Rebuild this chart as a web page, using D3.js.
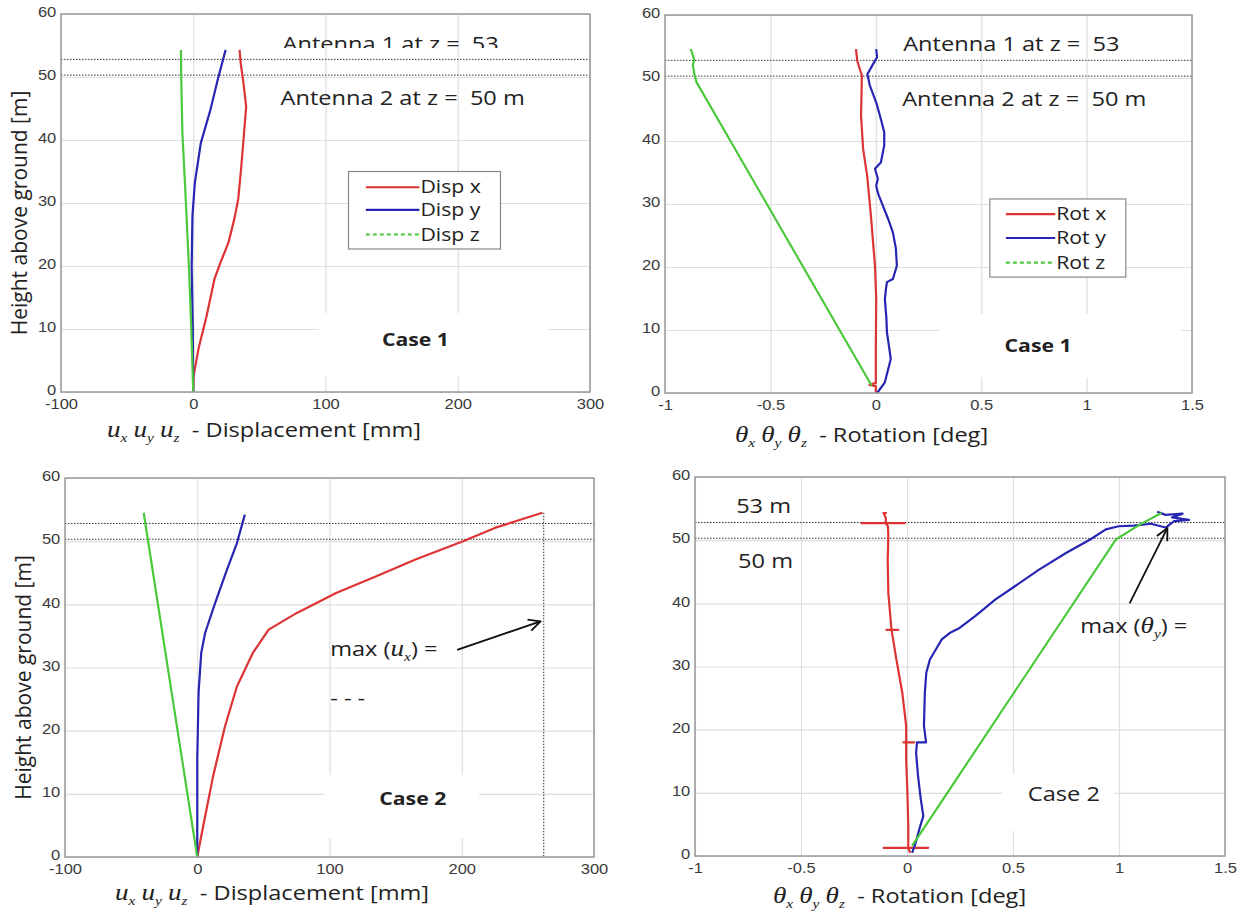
<!DOCTYPE html>
<html>
<head>
<meta charset="utf-8">
<script src="https://cdn.jsdelivr.net/npm/d3@7"></script>
<style>
  body { margin: 0; background: #fff; }
</style>
</head>
<body>
<svg id="chart" width="1241" height="920"></svg>
<script>
// ticks
const yTicks = [0, 10, 20, 30, 40, 50, 60];
const dispTicks = [-100, 0, 100, 200, 300];
const rotTicks = [-1, -0.5, 0, 0.5, 1, 1.5];
const antennaZ = [52.8, 50.3];

// series: [value, height m]
// case 1, displacement [mm]
const c1DispX = [[0,0],[0.3,2.6],[4,6.9],[10,12],[16,17.9],[20.7,20.6],[26.6,23.7],[31,27.4],[34,30.6],[36,35],[38,40],[40,45.3],[38,49],[36,52],[35,54.3]];
const c1DispY = [[0,0],[-0.3,9.5],[-1.2,20],[-0.6,28],[1.2,33.2],[5.7,39.5],[13,44.8],[19,50],[24.5,54.3]];
const c1DispZ = [[0,0],[-1.4,9.5],[-3.3,20],[-6,32],[-8.2,41],[-9.1,50],[-9.3,54.3]];
// case 1, rotation [deg]
const c1RotX = [[0,0],[0,1.1],[-0.03,1.3],[0,1.6],[0,7],[0.002,14.9],[-0.004,20.2],[-0.023,28.1],[-0.041,34.5],[-0.06,38.7],[-0.07,44],[-0.066,50.4],[-0.088,52.7],[-0.094,54.6]];
const c1RotY = [[0.006,0],[0.015,0.4],[0.043,1.7],[0.071,5.4],[0.06,8],[0.053,9.6],[0.05,12],[0.043,14.9],[0.048,16.5],[0.053,17.6],[0.081,18.1],[0.1,20.2],[0.095,23],[0.081,25.5],[0.06,27.5],[0.04,29.2],[0.015,31.3],[0.008,32],[0.002,32.9],[0.01,34],[-0.004,35.6],[0.024,36.6],[0.04,39.3],[0.04,41.4],[0.024,43.5],[0.002,46.1],[-0.028,48.8],[-0.04,50.6],[-0.013,52.2],[0.006,53.3],[0.002,54.6]];
const c1RotZ = [[-0.02,1.2],[-0.85,49.3],[-0.859,50.4],[-0.868,52],[-0.862,53],[-0.878,54.6]];
// case 2, displacement [mm]
const c2DispX = [[0,0],[4.5,4.9],[12,12.8],[21,20.7],[30,27],[42,32.3],[54,36],[75,38.6],[105,41.8],[135,44.4],[165,47.1],[201,50],[225,52.1],[261,54.5]];
const c2DispY = [[0,0],[0,15.4],[1,26],[3,32.3],[6,35.5],[13.5,40.2],[22.5,45.5],[30,49.7],[36,54.2]];
const c2DispZ = [[0,0],[-40.5,54.5]];
// case 2, rotation [deg]
const c2RotX = [[0.015,0.5],[0.006,1.3],[-0.11,1.3],[0.1,1.3],[0.006,1.3],[0.006,4.7],[0.002,10],[-0.004,15.3],[-0.004,18],[-0.017,18],[0.034,18],[-0.004,18],[-0.004,20.6],[-0.022,25.8],[-0.05,31.1],[-0.073,35.8],[-0.097,35.8],[-0.041,35.8],[-0.073,35.8],[-0.088,41.6],[-0.091,46.9],[-0.088,50.6],[-0.09,52.2],[-0.1,52.7],[-0.215,52.7],[-0.01,52.7],[-0.1,52.7],[-0.1,53.5],[-0.11,54.3],[-0.095,54.3]];
const c2RotY = [[0.024,0.5],[0.04,2],[0.062,4.7],[0.077,6.3],[0.065,9],[0.052,12.7],[0.043,16.3],[0.047,18],[0.09,18],[0.08,20.6],[0.084,25.8],[0.091,29],[0.108,31.1],[0.136,32.7],[0.164,34.3],[0.201,35.3],[0.248,36.1],[0.323,38],[0.416,40.6],[0.509,42.7],[0.621,45.3],[0.752,48],[0.864,50.1],[0.938,51.7],[0.998,52.2],[1.07,52.3],[1.15,52.6],[1.22,52.0],[1.26,53.0],[1.33,53.2],[1.25,53.6],[1.30,54.2],[1.22,54.0],[1.18,54.5]];
const c2RotZ = [[0.024,1.6],[0.985,50.1],[1.1,52.5],[1.2,54.3]];

const dispNames = ["Disp x", "Disp y", "Disp z"];
const rotNames = ["Rot x", "Rot y", "Rot z"];
const colors = ["#dd3333", "#2626b2", "#4cc83c"];

const svg = d3.select("#chart");
const textFont = "'Open Sans', sans-serif";
const serif = "'Liberation Serif', serif";
const SX = 1.18; // the source figure is stretched sideways

svg.append("defs").append("marker")
    .attr("id", "arrow")
    .attr("viewBox", "0 0 12 12")
    .attr("refX", 11).attr("refY", 6)
    .attr("markerWidth", 14).attr("markerHeight", 14)
    .attr("markerUnits", "userSpaceOnUse")
    .attr("orient", "auto")
  .append("path")
    .attr("d", "M1,1 L11,6 L1,11")
    .attr("fill", "none").attr("stroke", "#111").attr("stroke-width", 1.6);

function putText(g, x, y, size) {
  return g.append("text")
    .attr("transform", `translate(${x},${y}) scale(${SX},1)`)
    .attr("font-family", textFont).attr("font-size", size).attr("fill", "#222")
    .attr("xml:space", "preserve");
}

function addParts(t, parts) {
  parts.forEach(pt => {
    const s = t.append("tspan").text(pt.t);
    if (pt.it) s.attr("font-family", serif).attr("font-style", "italic").attr("font-size", 23);
    if (pt.sub) s.attr("font-family", serif).attr("font-style", "italic").attr("font-size", 13).attr("dy", 5);
    if (pt.up) s.attr("dy", -5);
  });
}

function drawPanel(p) {
  const g = svg.append("g");
  const x = d3.scaleLinear().domain(p.xDomain).range([p.left, p.right]);
  const y = d3.scaleLinear().domain([0, 60]).range([p.bottom, p.top]);
  const h = p.bottom - p.top, w = p.right - p.left;

  // grid
  g.append("g").attr("transform", `translate(0,${p.bottom})`)
    .call(d3.axisBottom(x).tickValues(p.xTicks).tickSize(-h).tickFormat(""))
    .call(s => s.select(".domain").remove())
    .selectAll("line").attr("stroke", "#dedede").attr("stroke-width", 1.2);
  g.append("g").attr("transform", `translate(${p.left},0)`)
    .call(d3.axisLeft(y).tickValues(yTicks).tickSize(-w).tickFormat(""))
    .call(s => s.select(".domain").remove())
    .selectAll("line").attr("stroke", "#dedede").attr("stroke-width", 1.2);

  // white patch behind the case label
  g.append("rect")
    .attr("x", x(p.patch[0])).attr("y", y(p.patch[3]))
    .attr("width", x(p.patch[1]) - x(p.patch[0]))
    .attr("height", y(p.patch[2]) - y(p.patch[3]))
    .attr("fill", "#fff");

  // antenna levels
  antennaZ.forEach(z => {
    g.append("line").attr("x1", p.left).attr("x2", p.right)
      .attr("y1", y(z)).attr("y2", y(z))
      .attr("stroke", "#333").attr("stroke-width", 1).attr("stroke-dasharray", "1.5,1.5");
  });

  if (p.maxLine) {
    g.append("line").attr("x1", x(p.maxLine[0])).attr("x2", x(p.maxLine[0]))
      .attr("y1", y(p.maxLine[1])).attr("y2", y(0))
      .attr("stroke", "#333").attr("stroke-width", 1).attr("stroke-dasharray", "1.5,1.5");
  }

  const line = d3.line().x(d => x(d[0])).y(d => y(d[1]));
  p.series.forEach((s, i) => {
    g.append("path").datum(s).attr("d", line)
      .attr("fill", "none").attr("stroke", colors[i])
      .attr("stroke-width", 2.2).attr("stroke-linejoin", "round");
  });

  // frame
  g.append("rect").attr("x", p.left).attr("y", p.top).attr("width", w).attr("height", h)
    .attr("fill", "none").attr("stroke", "#999").attr("stroke-width", 1.5);

  // tick labels
  const lab = s => s.select(".domain").remove();
  g.append("g").attr("transform", `translate(0,${p.bottom})`)
    .call(d3.axisBottom(x).tickValues(p.xTicks).tickSize(0).tickPadding(7).tickFormat(d => String(d)))
    .call(lab)
    .selectAll("text").attr("font-family", "'Liberation Sans', Arial, sans-serif")
    .attr("font-size", 14).attr("fill", "#3a3a3a").attr("transform", `scale(${SX},1)`);
  g.append("g").attr("transform", `translate(${p.left},0)`)
    .call(d3.axisLeft(y).tickValues(yTicks).tickSize(0).tickPadding(4).tickFormat(d => String(d)))
    .call(lab)
    .selectAll("text").attr("font-family", "'Liberation Sans', Arial, sans-serif")
    .attr("font-size", 14).attr("fill", "#3a3a3a").attr("dy", "0.2em")
    .attr("transform", `scale(${SX},1)`);

  // texts
  p.notes.forEach((n, k) => {
    let host = g;
    if (n.clipAt !== undefined) {
      const id = "clip" + p.left + "_" + k;
      g.append("clipPath").attr("id", id).append("rect")
        .attr("x", p.left).attr("y", p.top).attr("width", w).attr("height", y(n.clipAt) - p.top);
      host = g.append("g").attr("clip-path", `url(#${id})`);
    }
    const t = putText(host, x(n.at[0]), y(n.at[1]), n.size || 20)
      .attr("font-weight", n.bold ? 700 : 400)
      .attr("text-anchor", n.anchor || "start");
    if (n.parts) addParts(t, n.parts); else t.text(n.text);
  });

  if (p.arrow) {
    g.append("line")
      .attr("x1", x(p.arrow[0][0])).attr("y1", y(p.arrow[0][1]))
      .attr("x2", x(p.arrow[1][0])).attr("y2", y(p.arrow[1][1]))
      .attr("stroke", "#111").attr("stroke-width", 1.8).attr("marker-end", "url(#arrow)");
  }

  // legend
  if (p.legend) {
    const L = p.legend;
    g.append("rect").attr("x", x(L.box[0])).attr("y", y(L.box[3]))
      .attr("width", x(L.box[1]) - x(L.box[0])).attr("height", y(L.box[2]) - y(L.box[3]))
      .attr("fill", "#fff").attr("stroke", "#888").attr("stroke-width", 1.2);
    p.names.forEach((nm, i) => {
      const yy = y(L.rows[i]);
      g.append("line").attr("x1", x(L.line[0])).attr("x2", x(L.line[1]))
        .attr("y1", yy).attr("y2", yy).attr("stroke", colors[i]).attr("stroke-width", 2.2)
        .attr("stroke-dasharray", i === 2 ? "4,3" : null);
      putText(g, x(L.line[1]) + 1, yy + 6, 18).text(nm);
    });
  }

  if (p.yTitle) {
    g.append("text").attr("transform", `translate(${p.left - 34},${(p.top + p.bottom) / 2 + 10}) rotate(-90)`)
      .attr("text-anchor", "middle").attr("font-family", textFont).attr("font-size", 21)
      .attr("fill", "#222").text("Height above ground [m]");
  }

  const tt = putText(g, p.left + p.xTitle[0], p.bottom + p.xTitle[1], 20);
  const parts = [];
  ["x", "y", "z"].forEach(s => {
    parts.push({ t: p.sym, it: true }, { t: s, sub: true }, { t: " ", up: true });
  });
  parts.push({ t: " - " + p.rest });
  addParts(tt, parts);
}

drawPanel({
  left: 61, right: 590, top: 14, bottom: 392,
  xDomain: [-100, 300], xTicks: dispTicks,
  series: [c1DispX, c1DispY, c1DispZ], names: dispNames,
  patch: [95, 268, 2.5, 12.5],
  notes: [
    { text: "Antenna 1 at z =  53", at: [67.5, 54.1], clipAt: 54.6 },
    { text: "Antenna 2 at z =  50 m", at: [66, 45.6] },
    { text: "Case 1", at: [168, 7.3], bold: true, anchor: "middle", size: 18 }
  ],
  legend: { box: [117.4, 232.3, 22.7, 35], line: [130.5, 171], rows: [32.5, 28.9, 25] },
  yTitle: true, sym: "u", rest: "Displacement [mm]", xTitle: [46, 45]
});

drawPanel({
  left: 665, right: 1192, top: 15, bottom: 393,
  xDomain: [-1, 1.5], xTicks: rotTicks,
  series: [c1RotX, c1RotY, c1RotZ], names: rotNames,
  patch: [0.3, 1.45, 2.5, 12.5],
  notes: [
    { text: "Antenna 1 at z =  53", at: [0.13, 54.3] },
    { text: "Antenna 2 at z =  50 m", at: [0.125, 45.6] },
    { text: "Case 1", at: [0.77, 6.5], bold: true, anchor: "middle", size: 18 }
  ],
  legend: { box: [0.541, 1.186, 18.4, 30.8], line: [0.617, 0.851], rows: [28.4, 24.6, 20.7] },
  yTitle: false, sym: "\u03b8", rest: "Rotation [deg]", xTitle: [70, 49]
});

drawPanel({
  left: 65, right: 594, top: 478, bottom: 857,
  xDomain: [-100, 300], xTicks: dispTicks,
  series: [c2DispX, c2DispY, c2DispZ], names: dispNames,
  patch: [96, 213, 3, 13],
  maxLine: [262, 54.5],
  notes: [
    { parts: [{ t: "max (" }, { t: "u", it: true }, { t: "x", sub: true }, { t: ") =", up: true }], at: [100.5, 31.8] },
    { text: "- - -", at: [100.5, 24] },
    { text: "Case 2", at: [163, 8.2], bold: true, anchor: "middle", size: 18 }
  ],
  arrow: [[196.5, 32.8], [259.5, 37.3]],
  yTitle: true, sym: "u", rest: "Displacement [mm]", xTitle: [50, 43]
});

drawPanel({
  left: 695, right: 1225, top: 477, bottom: 856,
  xDomain: [-1, 1.5], xTicks: rotTicks,
  series: [c2RotX, c2RotY, c2RotZ], names: rotNames,
  patch: [0.45, 0.98, 4, 13],
  notes: [
    { text: "53 m", at: [-0.806, 54.3] },
    { text: "50 m", at: [-0.797, 45.6] },
    { parts: [{ t: "max (" }, { t: "\u03b8", it: true }, { t: "y", sub: true }, { t: ") =", up: true }], at: [0.817, 35.3] },
    { text: "Case 2", at: [0.74, 8.7], anchor: "middle" }
  ],
  arrow: [[1.05, 40], [1.228, 51.9]],
  yTitle: false, sym: "\u03b8", rest: "Rotation [deg]", xTitle: [78, 47]
});
</script>
</body>
</html>
